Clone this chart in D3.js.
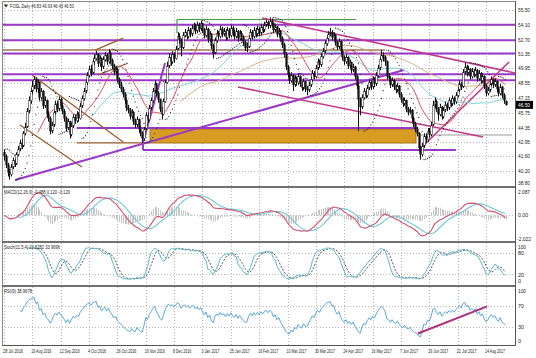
<!DOCTYPE html>
<html><head><meta charset="utf-8">
<script src="https://cdn.jsdelivr.net/npm/d3@7"></script>
<style>body{margin:0;background:#fff}svg text{font-family:"Liberation Sans",Arial,sans-serif}</style>
</head><body><svg id="c" width="536" height="358"></svg>
<script>
// ---------------- data ----------------
const dateLabels=["28 Jul 2016","19 Aug 2016","12 Sep 2016","4 Oct 2016","26 Oct 2016","16 Nov 2016","8 Dec 2016","3 Jan 2017","25 Jan 2017","16 Feb 2017","10 Mar 2017","30 Mar 2017","24 Apr 2017","16 May 2017","7 Jun 2017","29 Jun 2017","21 Jul 2017","14 Aug 2017"];
const priceTicks=[55.50,54.10,52.70,51.35,49.95,48.55,47.15,45.75,44.35,42.95,41.60,40.20,38.80];
const macdTicks=[2.087,0,-2.022];
const stochTicks=[100,80,20,0];
const rsiTicks=[100,70,30,0];
const titleText="FOSL,Daily  46.83 46.93 46.43 46.50";
const macdText="MACD(12,26,9) -0.488 0.120 -0.120";
const stochText="Stoch(11,5,4) 22.5282 33.9696";
const rsiText="RSI(9) 38.9678";
const close=[41.6,40.8,40.1,39.9,40.6,41.2,40.9,41.8,42.3,42.9,
42.6,43.8,44.4,45.9,46.9,47.8,48.3,48.9,48.0,48.6,
47.2,47.8,46.4,46.9,45.6,45.2,44.0,44.6,45.8,46.6,
46.1,47.0,46.4,45.9,45.2,44.3,44.9,43.7,44.5,45.3,
45.0,45.6,45.2,46.4,47.1,47.8,48.6,49.3,49.9,49.5,
50.6,50.9,51.3,50.4,50.9,50.1,50.8,51.2,50.6,51.4,
50.7,50.2,49.6,49.9,48.9,48.4,48.0,47.5,46.9,46.2,
46.0,45.4,45.8,44.9,44.6,45.1,44.2,43.8,43.3,44.2,
45.5,45.1,46.2,46.9,47.8,48.5,47.6,47.0,46.1,45.6,
46.8,48.6,50.2,51.0,50.6,51.3,50.9,51.8,53.0,52.6,
51.9,53.1,53.4,53.0,53.6,53.2,53.8,54.0,53.5,54.1,
53.7,54.2,53.6,53.1,53.7,52.7,53.2,52.1,51.4,52.6,
53.3,53.0,53.7,53.2,53.5,52.9,53.6,53.1,53.8,53.3,
53.0,53.5,52.8,53.3,52.9,52.4,51.9,52.0,52.8,53.4,
53.0,53.6,53.2,53.7,53.3,53.9,53.6,54.1,54.3,54.0,
54.4,54.2,53.6,53.9,53.2,53.5,52.8,52.2,51.3,50.1,
49.4,48.8,49.3,48.4,49.0,48.6,49.2,48.5,48.1,48.7,
48.0,47.9,48.4,48.9,49.5,49.2,50.0,50.6,50.3,51.1,
51.6,52.3,52.8,53.2,53.4,52.9,53.1,52.4,52.0,52.5,
51.6,51.0,50.6,51.0,50.2,50.5,49.8,50.1,49.2,48.3,
47.0,46.3,47.2,47.8,47.4,48.1,48.6,48.2,48.9,48.5,
49.3,50.0,50.8,51.2,51.0,50.6,49.2,49.0,48.4,48.8,
48.2,47.9,48.3,47.5,47.0,46.6,46.9,46.1,45.8,46.0,
45.2,44.7,44.2,43.8,42.4,41.8,42.6,43.5,43.2,44.0,
43.7,44.6,46.5,46.8,46.1,45.6,46.3,45.4,46.0,46.5,
46.2,46.9,46.6,47.1,46.8,47.4,47.9,48.5,48.2,49.6,
50.1,49.5,49.9,49.2,49.7,49.4,49.8,49.0,49.5,48.8,
49.2,48.3,47.6,47.9,48.5,48.9,48.4,48.7,48.0,47.6,
48.2,47.4,46.9,46.50];
const open=[42.0,41.6,40.8,40.1,39.9,40.6,41.2,40.9,41.8,42.3,
42.9,42.6,43.8,44.4,45.9,46.9,47.8,48.3,48.9,48.0,
48.6,47.2,47.8,46.4,46.9,45.6,45.2,44.0,44.6,45.8,
46.6,46.1,47.0,46.4,45.9,45.2,44.3,44.9,43.7,44.5,
45.3,45.0,45.6,45.2,46.4,47.1,47.8,48.6,49.3,49.9,
49.5,50.6,50.9,51.3,50.4,50.9,50.1,50.8,51.2,50.6,
51.4,50.7,50.2,49.6,49.9,48.9,48.4,48.0,47.5,46.9,
46.2,46.0,45.4,45.8,44.9,44.6,45.1,44.2,43.8,43.3,
44.2,45.5,45.1,46.2,46.9,47.8,48.5,47.6,47.0,46.1,
45.6,46.8,48.6,50.2,51.0,50.6,51.3,50.9,51.8,53.0,
52.6,51.9,53.1,53.4,53.0,53.6,53.2,53.8,54.0,53.5,
54.1,53.7,54.2,53.6,53.1,53.7,52.7,53.2,52.1,51.4,
52.6,53.3,53.0,53.7,53.2,53.5,52.9,53.6,53.1,53.8,
53.3,53.0,53.5,52.8,53.3,52.9,52.4,51.9,52.0,52.8,
53.4,53.0,53.6,53.2,53.7,53.3,53.9,53.6,54.1,54.3,
54.0,54.4,54.2,53.6,53.9,53.2,53.5,52.8,52.2,51.3,
50.1,49.4,48.8,49.3,48.4,49.0,48.6,49.2,48.5,48.1,
48.7,48.0,47.9,48.4,48.9,49.5,49.2,50.0,50.6,50.3,
51.1,51.6,52.3,52.8,53.2,53.4,52.9,53.1,52.4,52.0,
52.5,51.6,51.0,50.6,51.0,50.2,50.5,49.8,50.1,49.2,
48.3,47.0,46.3,47.2,47.8,47.4,48.1,48.6,48.2,48.9,
48.5,49.3,50.0,50.8,51.2,51.0,50.6,49.2,49.0,48.4,
48.8,48.2,47.9,48.3,47.5,47.0,46.6,46.9,46.1,45.8,
46.0,45.2,44.7,44.2,43.8,42.4,41.8,42.6,43.5,43.2,
44.0,43.7,44.6,46.5,46.8,46.1,45.6,46.3,45.4,46.0,
46.5,46.2,46.9,46.6,47.1,46.8,47.4,47.9,48.5,48.2,
49.6,50.1,49.5,49.9,49.2,49.7,49.4,49.8,49.0,49.5,
48.8,49.2,48.3,47.6,47.9,48.5,48.9,48.4,48.7,48.0,
47.6,48.2,47.4,46.83];
const high=[42.3,41.8,41.0,40.4,40.9,41.5,41.4,42.0,42.6,43.2,
43.3,44.0,44.8,46.2,47.3,48.1,48.8,49.2,49.1,48.9,
48.7,48.1,47.9,47.3,47.0,45.9,45.4,44.9,46.0,46.9,
46.9,47.3,47.2,46.7,46.1,45.4,45.2,45.0,44.8,45.6,
45.6,45.9,45.8,46.7,47.4,48.1,48.9,49.6,50.2,50.3,
50.9,51.3,51.6,51.4,51.2,51.0,51.1,51.5,51.4,51.8,
51.6,50.9,50.4,50.2,50.0,49.1,48.7,48.2,47.7,47.1,
46.5,46.2,46.1,45.9,45.2,45.4,45.2,44.5,44.0,44.4,
45.8,45.8,46.5,47.2,48.1,48.8,48.6,47.8,47.1,46.3,
47.1,48.9,50.6,51.4,51.3,51.6,51.5,52.1,53.4,53.3,
52.8,53.4,53.7,53.6,53.9,53.8,54.1,54.3,54.2,54.4,
54.3,54.5,54.3,53.8,54.0,53.8,53.5,53.3,52.3,52.9,
53.6,53.5,54.0,53.9,53.8,53.7,53.9,53.8,54.1,54.0,
53.6,53.8,53.6,53.6,53.5,53.1,52.6,52.4,53.1,53.7,
53.6,53.9,53.8,54.0,53.9,54.2,54.1,54.4,54.6,54.5,
54.8,54.7,54.3,54.2,54.0,53.8,53.6,53.0,52.4,51.5,
50.3,49.6,49.6,49.4,49.3,49.2,49.5,49.3,48.7,49.0,
48.8,48.3,48.7,49.2,49.8,49.7,50.3,50.9,50.8,51.4,
51.9,52.6,53.1,53.5,53.8,53.6,53.4,53.2,52.6,52.8,
52.6,51.8,51.2,51.3,51.1,50.8,50.6,50.4,50.2,49.4,
48.5,47.2,47.5,48.1,48.0,48.4,48.9,48.8,49.2,49.1,
49.6,50.3,51.1,51.7,51.5,51.2,50.7,49.5,49.2,49.1,
49.0,48.4,48.6,48.4,47.7,47.2,47.2,47.0,46.3,46.3,
46.1,45.4,44.9,44.4,43.9,42.6,42.9,43.8,43.8,44.3,
44.3,44.9,46.9,47.2,47.0,46.3,46.6,46.4,46.3,46.8,
46.7,47.2,47.1,47.4,47.3,47.7,48.2,48.8,48.7,49.9,
50.5,50.3,50.2,50.0,50.0,49.9,50.1,49.9,49.8,49.6,
49.5,49.3,48.5,48.2,48.8,49.2,49.0,49.0,48.8,48.2,
48.5,48.3,47.6,46.93];
const low=[41.2,40.5,39.7,39.4,39.7,40.4,40.6,40.8,41.6,42.1,
42.3,42.5,43.6,44.3,45.7,46.6,47.5,48.0,47.7,47.6,
46.9,47.0,46.1,46.2,45.3,44.9,43.7,43.8,44.4,45.6,
45.8,45.9,46.1,45.6,44.9,44.0,44.1,43.3,43.5,44.3,
44.7,44.8,44.9,45.1,46.2,46.9,47.6,48.4,49.1,49.2,
49.4,50.3,50.7,50.1,50.2,49.7,49.9,50.6,50.3,50.4,
50.4,49.9,49.3,49.4,48.6,48.1,47.7,47.2,46.6,45.9,
45.7,45.1,45.2,44.6,44.3,44.4,43.9,43.5,42.9,43.1,
44.1,44.8,45.0,46.0,46.7,47.6,47.3,46.7,45.8,45.1,
45.5,46.7,48.5,50.0,50.2,50.4,50.5,50.8,51.7,52.3,
51.1,51.8,52.9,52.7,52.8,52.9,53.0,53.6,53.2,53.3,
53.4,53.5,53.3,52.8,52.9,52.4,52.5,51.8,50.9,51.3,
52.4,52.7,52.8,52.9,53.0,52.6,52.7,52.8,52.9,53.0,
52.7,52.8,52.5,52.6,52.6,52.1,51.6,51.5,51.9,52.6,
52.7,52.8,52.9,53.0,53.0,53.1,53.3,53.4,53.9,53.7,
53.8,53.9,53.3,53.4,52.9,53.0,52.5,51.9,51.0,49.8,
49.1,48.5,48.6,47.8,48.2,48.3,48.4,48.2,47.8,47.9,
47.7,47.4,47.7,48.2,48.7,48.9,49.0,49.8,50.0,50.1,
50.9,51.4,52.1,52.6,53.0,52.6,52.7,52.1,51.7,51.8,
51.3,50.7,50.3,50.4,49.9,50.0,49.5,49.6,48.9,48.0,
44.0,45.5,46.1,47.0,47.1,47.2,47.9,47.9,48.0,48.2,
48.3,49.1,49.8,50.6,50.6,50.2,48.9,48.7,48.1,48.2,
47.9,47.6,47.7,47.2,46.7,46.3,46.4,45.8,45.5,45.6,
44.9,44.4,43.9,43.5,42.1,41.3,41.6,42.4,42.9,43.0,
43.4,43.5,44.5,46.2,45.8,45.0,45.4,45.1,45.2,45.8,
45.9,46.0,46.3,46.4,46.5,46.6,47.2,47.7,47.9,48.1,
49.4,49.2,49.3,48.9,49.0,49.1,49.2,48.7,48.8,48.5,
48.6,48.0,47.3,47.4,47.7,48.3,48.1,48.2,47.7,47.3,
47.4,47.1,46.6,46.43];
// chart objects: [bar1, price1, bar2, price2, kind]
const levelLines=[54.10,52.62,51.37,49.40,48.83];
const objects=[
 [-3,51.70,215,51.70,"tan"],
 [41,44.30,233,44.30,"purple"],
 [41,42.90,82.4,42.90,"brown"],
 [78.4,42.22,255,42.22,"purple"],
 [78.4,42.88,78.4,42.22,"purple"],
 [97.6,54.60,198.6,54.60,"green"],
 [97.6,54.60,97.6,53.30,"green"],
 [235,43.64,286.7,43.64,"gray"],
 [15.8,49.33,67.2,42.98,"brown"],
 [9,44.59,44,40.60,"brown"],
 [51.4,51.70,67.2,52.84,"brown"],
 [53,49.33,70,50.47,"brown"],
 [6.2,39.37,225.7,49.81,"purple"],
 [78.4,42.88,90.9,50.47,"purple"],
 [145.6,54.74,288.4,49.52,"pink"],
 [132,48.20,270.3,43.45,"pink"],
 [234.2,42.22,285,50.57,"pink"]
];
const zone=[82.4,44.20,232.5,42.88];
const rsiTrend=[233.6,18,272.6,69];

// ---------------- indicators ----------------
const N=close.length;
function sma(a,n){return a.map((v,i)=>{if(i<n-1)return null;let s=0;for(let j=i-n+1;j<=i;j++){if(a[j]==null)return null;s+=a[j];}return s/n;});}
function ema(a,n){const k=2/(n+1);let e=a[0];return a.map((v,i)=>{if(i>0)e=v*k+e*(1-k);return e;});}
function rsi(c,n){const out=new Array(c.length).fill(null);let g=0,l=0;for(let i=1;i<=n;i++){const d=c[i]-c[i-1];if(d>0)g+=d;else l-=d;}g/=n;l/=n;out[n]=100-100/(1+g/l);
 for(let i=n+1;i<c.length;i++){const d=c[i]-c[i-1];g=(g*(n-1)+Math.max(d,0))/n;l=(l*(n-1)+Math.max(-d,0))/n;out[i]=l===0?100:100-100/(1+g/l);}return out;}
function stoch(h,l,c,k,d,s){const num=[],den=[];for(let i=0;i<c.length;i++){if(i<k-1){num.push(null);den.push(null);continue;}let hh=-1e9,ll=1e9;for(let j=i-k+1;j<=i;j++){hh=Math.max(hh,h[j]);ll=Math.min(ll,l[j]);}num.push(c[i]-ll);den.push(hh-ll);}
 const K=num.map((v,i)=>{if(i<k+s-2)return null;let a=0,b=0;for(let j=i-s+1;j<=i;j++){a+=num[j];b+=den[j];}return b===0?100:a/b*100;});return [K,sma(K,d)];}
function psar(h,l,step,mx){const out=[null];let up=true,af=step,ep=h[0],s=l[0];
 for(let i=1;i<h.length;i++){s=s+af*(ep-s);
  if(up){s=Math.min(s,l[i-1],l[Math.max(i-2,0)]);if(l[i]<s){up=false;s=ep;ep=l[i];af=step;}else if(h[i]>ep){ep=h[i];af=Math.min(af+step,mx);}}
  else{s=Math.max(s,h[i-1],h[Math.max(i-2,0)]);if(h[i]>s){up=true;s=ep;ep=h[i];af=step;}else if(l[i]<ep){ep=l[i];af=Math.min(af+step,mx);}}
  out.push(s);}return out;}
const ma20=sma(close,20),ma50=sma(close,50),ma100=sma(close,100);
const e12=ema(close,12),e26=ema(close,26);
const macd=e12.map((v,i)=>v-e26[i]);
const signal=sma(macd,9);
const hist=macd.map((v,i)=>signal[i]==null?null:v-signal[i]);
const [stK,stD]=stoch(high,low,close,11,5,4);
const rsi9=rsi(close,9);
const sar=psar(high,low,0.02,0.2);

// ---------------- drawing ----------------
const svg=d3.select("#c");
const L=2,R=515;
const P={main:[2,186],macd:[188,241],stoch:[243,285],rsi:[287,345]};
const x=d3.scaleLinear().domain([0,283]).range([4,505.5]);
const yP=d3.scaleLinear().domain([38.8,55.5]).range([186,10]);
const yM=d3.scaleLinear().domain([-2.022,2.087]).range([240,190]);
const yS=d3.scaleLinear().domain([0,100]).range([281,246]);
const yR=d3.scaleLinear().domain([0,100]).range([343,290]);
svg.append("rect").attr("width",536).attr("height",358).attr("fill","#fff");
const defs=svg.append("defs");
Object.entries(P).forEach(([k,[a,b]])=>defs.append("clipPath").attr("id","cl-"+k).append("rect").attr("x",L).attr("y",a).attr("width",R-L).attr("height",b-a));
const g=k=>svg.append("g").attr("clip-path",`url(#cl-${k})`);
const gridC="#b8b8b8";
const tickIdx=dateLabels.map((d,i)=>i*16);
const gv=svg.append("g");
tickIdx.forEach(i=>{Object.values(P).forEach(([a,b])=>gv.append("line").attr("x1",Math.round(x(i))+.5).attr("x2",Math.round(x(i))+.5).attr("y1",a).attr("y2",b).attr("stroke",gridC).attr("stroke-dasharray","1,2"));});
const hg=(ys,vals)=>vals.forEach(v=>svg.append("line").attr("x1",L).attr("x2",R).attr("y1",Math.round(ys(v))+.5).attr("y2",Math.round(ys(v))+.5).attr("stroke",gridC).attr("stroke-dasharray","1,2"));
hg(yP,priceTicks.slice(0,-1));hg(yM,[0]);hg(yS,[80,20]);hg(yR,[70,30]);

// main panel
const gm=g("main");
gm.append("rect").attr("x",x(zone[0])).attr("y",yP(zone[1])).attr("width",x(zone[2])-x(zone[0])).attr("height",yP(zone[3])-yP(zone[1])).attr("fill","#d89c22").attr("stroke","#a8741a");
const kinds={purple:{c:"#9a38c8",w:2},pink:{c:"#c2388c",w:1.6},brown:{c:"#9b5c2c",w:1.3},tan:{c:"#9c7a52",w:1.6},green:{c:"#4a9a4a",w:1.2},gray:{c:"#9a9a9a",w:1}};
levelLines.forEach(p=>gm.append("line").attr("x1",L).attr("x2",R).attr("y1",yP(p)).attr("y2",yP(p)).attr("stroke",kinds.purple.c).attr("stroke-width",2));
objects.forEach(o=>{const k=kinds[o[4]];gm.append("line").attr("x1",x(o[0])).attr("y1",yP(o[1])).attr("x2",x(o[2])).attr("y2",yP(o[3])).attr("stroke",k.c).attr("stroke-width",k.w);});
const lineIn=(gg,ys,arr,col,w,dash)=>{const p=gg.append("path").datum(arr).attr("fill","none").attr("stroke",col).attr("stroke-width",w||1)
 .attr("d",d3.line().defined(d=>d!=null).x((d,i)=>x(i)).y(d=>ys(d)));if(dash)p.attr("stroke-dasharray",dash);};
lineIn(gm,yP,ma100,"#d8ad80",1);
lineIn(gm,yP,ma50,"#78d0d8",1);
lineIn(gm,yP,ma20,"#e0505a",1);
const cg=gm.append("g");
close.forEach((c,i)=>{const xi=Math.round(x(i))+.5;
 cg.append("line").attr("x1",xi).attr("x2",xi).attr("y1",yP(high[i])).attr("y2",yP(low[i])).attr("stroke","#111").attr("stroke-width",1);
 const t=yP(Math.max(open[i],c)),b=yP(Math.min(open[i],c));
 cg.append("rect").attr("x",xi-0.75).attr("y",t).attr("width",1.5).attr("height",Math.max(b-t,0.8)).attr("fill",c>=open[i]?"#fff":"#111").attr("stroke","#111").attr("stroke-width",0.5);});
gm.append("g").selectAll("circle").data(sar.map((v,i)=>[i,v]).filter(d=>d[1]!=null)).join("circle").attr("cx",d=>x(d[0])).attr("cy",d=>yP(d[1])).attr("r",0.6).attr("fill","#222");

// MACD panel
const gM=g("macd");
gM.append("g").selectAll("line").data(hist.map((v,i)=>[i,v]).filter(d=>d[1]!=null)).join("line")
 .attr("x1",d=>Math.round(x(d[0]))+.5).attr("x2",d=>Math.round(x(d[0]))+.5).attr("y1",yM(0)).attr("y2",d=>yM(d[1])).attr("stroke","#c4c4c4").attr("stroke-width",1);
lineIn(gM,yM,signal,"#6cc8d8",1.1);
lineIn(gM,yM,macd,"#d0506e",1.1);
const gS=g("stoch");
lineIn(gS,yS,stD,"#555",1,"2,1.5");
lineIn(gS,yS,stK,"#5ab8cc",1);
const gR=g("rsi");
lineIn(gR,yR,rsi9,"#58a8d8",1);
gR.append("line").attr("x1",x(rsiTrend[0])).attr("y1",yR(rsiTrend[1])).attr("x2",x(rsiTrend[2])).attr("y2",yR(rsiTrend[3])).attr("stroke","#b0307c").attr("stroke-width",2);

// frame & separators
svg.append("rect").attr("x",L+.5).attr("y",1.5).attr("width",R-L).attr("height",344).attr("fill","none").attr("stroke","#8a8a8a");
[187,242,286].forEach(y=>svg.append("line").attr("x1",L).attr("x2",R+1).attr("y1",y).attr("y2",y).attr("stroke","#707070").attr("stroke-width",2));
svg.append("line").attr("x1",R+.5).attr("x2",R+.5).attr("y1",1).attr("y2",346).attr("stroke","#555");
svg.append("line").attr("x1",L).attr("x2",R+1).attr("y1",345.5).attr("y2",345.5).attr("stroke","#555");

// labels
const fs=5.3;
const T=(tx,xx,yy,col,len)=>{const t=svg.append("text").attr("x",xx).attr("y",yy).attr("font-size",fs).attr("fill",col||"#222").text(tx);if(len)t.attr("textLength",len).attr("lengthAdjust","spacingAndGlyphs");return t;};
priceTicks.forEach(p=>{const yy=p===38.8?185:yP(p)+2;T(p.toFixed(2),518,yy,null,12);});
T("2.087",518,193.5,null,12);T("0.00",518,yM(0)+2,null,10);T("-2.022",517,240.5,null,14);
T("100",518,249,null,8);T("80",518,255,null,6);T("20",518,277,null,6);T("0",518,283,null,3);
T("100",518,293,null,8);T("70",518,yR(70)+2,null,6);T("30",518,yR(30)+2,null,6);T("0",518,343,null,3);
svg.append("rect").attr("x",516).attr("y",yP(close[N-1])-4).attr("width",17).attr("height",8).attr("fill","#000");
T(close[N-1].toFixed(2),518,yP(close[N-1])+2,"#fff",12);
dateLabels.forEach((d,k)=>T(d,x(tickIdx[k])-1,353,null,d.length>10?20:18));
svg.append("path").attr("d","M4,4.5 L8,4.5 L6,7.5 Z").attr("fill","#222");
T(titleText,10,8,null,64);
T(macdText,4,194,null,66);
T(stochText,4,249,null,56);
T(rsiText,4,293,null,28);
</script></body></html>
